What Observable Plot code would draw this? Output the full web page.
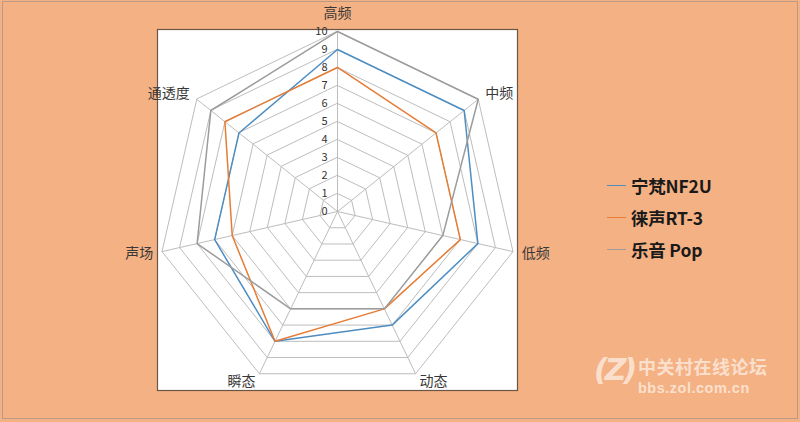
<!DOCTYPE html>
<html>
<head>
<meta charset="utf-8">
<script src="https://cdn.jsdelivr.net/npm/d3@7"></script>
<script src="https://cdn.jsdelivr.net/npm/@observablehq/plot@0.6"></script>
<style>
  html, body { margin: 0; padding: 0; }
  body { width: 800px; height: 422px; overflow: hidden; }
  #wrap { position: relative; width: 800px; height: 422px; background: #F4B183; font-family: "Noto Sans CJK SC", "DejaVu Sans", sans-serif; }
  #outer { position: absolute; left: 2px; top: 1px; width: 794px; height: 416px; border: 1px solid #b89a86; pointer-events: none; }
  #legend { position: absolute; left: 607px; top: 169px; }
  .li { display: flex; align-items: center; height: 32px; }
  .sw { width: 19px; height: 0; border-top: 1.5px solid; margin-right: 5px; }
  .lt { font-size: 17.5px; font-weight: 600; color: #1a1a1a; font-family: "Noto Sans CJK SC", "Liberation Sans", sans-serif; letter-spacing: -0.2px; }
  #wm { position: absolute; left: 594px; top: 352px; color: rgba(255,255,255,0.62); line-height: 1; }
  #wm .z { position: absolute; left: 0; top: 3px; font: italic 900 30px "DejaVu Sans", sans-serif; letter-spacing: -3px; white-space: nowrap; line-height: 1; }
  #wm .cn { position: absolute; left: 44px; top: 5px; font: 700 18px "Noto Sans CJK SC", sans-serif; white-space: nowrap; letter-spacing: 0.5px; line-height: 1; }
  #wm .url { position: absolute; left: 44px; top: 29px; font: 700 14.5px "Liberation Sans", "DejaVu Sans", sans-serif; white-space: nowrap; letter-spacing: 0.5px; line-height: 1; }
</style>
</head>
<body>
<div id="wrap">
  <div id="chart"></div>
  <div id="legend"></div>
  <div id="wm"><span class="z">(Z)</span><span class="cn">中关村在线论坛</span><span class="url">bbs.zol.com.cn</span></div>
  <div id="outer"></div>
</div>
<script>
// ---- data ----
const axes = ["高频", "中频", "低频", "动态", "瞬态", "声场", "通透度"];
const seriesNames = ["宁梵NF2U", "徕声RT-3", "乐音 Pop"];
const nf2u = [9, 9, 8, 7, 8, 7, 7];
const rt3  = [8, 7, 7, 6, 8, 6, 8];
const pop  = [10, 10, 6, 6, 6, 8, 9];
const tickValues = [0, 1, 2, 3, 4, 5, 6, 7, 8, 9, 10];
const seriesColors = ["#4E8DC2", "#E67C35", "#9C9C9C"];

// ---- derived ----
const n = axes.length;
const ang = i => i * 2 * Math.PI / n;
const px = (r, i) => r * Math.sin(ang(i));
const py = (r, i) => r * Math.cos(ang(i));

const rings = [];
for (const lv of tickValues.slice(1)) {
  for (let i = 0; i < n; i++) rings.push({level: lv, x: px(lv, i), y: py(lv, i)});
}
const spokes = axes.map((a, i) => ({axis: a, x2: px(10, i), y2: py(10, i)}));

const allSeries = [nf2u, rt3, pop];
const rows = [];
allSeries.forEach((vals, s) => vals.forEach((v, i) => rows.push({series: seriesNames[s], axis: axes[i], value: v, x: px(v, i), y: py(v, i)})));

const labels = axes.map((a, i) => {
  const r = i === 0 ? 11 : 10.5;
  const s = Math.sin(ang(i));
  return {axis: a, x: px(r, i), y: py(r, i), anchor: s > 0.1 ? "start" : s < -0.1 ? "end" : "middle"};
});

const chart = Plot.plot({
  width: 800,
  height: 422,
  marginLeft: 157,
  marginRight: 283,
  marginTop: 29,
  marginBottom: 32,
  x: {domain: [-10, 10], axis: null},
  y: {domain: [-9.94, 10.11], axis: null},
  color: {domain: seriesNames, range: seriesColors},
  style: {background: "transparent", fontFamily: "'Noto Sans CJK SC', 'DejaVu Sans', sans-serif", overflow: "visible"},
  marks: [
    Plot.frame({fill: "white", stroke: "#6a5546", strokeWidth: 1.2}),
    Plot.line(rings, {x: "x", y: "y", z: "level", curve: "linear-closed", stroke: "#bdbdbd", strokeWidth: 1}),
    Plot.link(spokes, {x1: 0, y1: 0, x2: "x2", y2: "y2", stroke: "#bdbdbd", strokeWidth: 1}),
    Plot.line(rows, {x: "x", y: "y", z: "series", stroke: "series", curve: "linear-closed", strokeWidth: 1.5}),
    Plot.text(tickValues, {x: 0, y: d => d, text: d => String(d), textAnchor: "end", dx: -10, fontSize: 11, fill: "#333"}),
    Plot.text(labels.filter(d => d.anchor === "start"), {x: "x", y: "y", text: "axis", textAnchor: "start", fontSize: 14, fill: "#383838"}),
    Plot.text(labels.filter(d => d.anchor === "end"), {x: "x", y: "y", text: "axis", textAnchor: "end", fontSize: 14, fill: "#383838"}),
    Plot.text(labels.filter(d => d.anchor === "middle"), {x: "x", y: "y", text: "axis", textAnchor: "middle", fontSize: 14, fill: "#383838"})
  ]
});
document.getElementById("chart").appendChild(chart);

const lg = document.getElementById("legend");
seriesNames.forEach((name, i) => {
  const row = document.createElement("div");
  row.className = "li";
  const sw = document.createElement("span");
  sw.className = "sw";
  sw.style.borderColor = seriesColors[i];
  const t = document.createElement("span");
  t.className = "lt";
  t.textContent = name;
  row.appendChild(sw); row.appendChild(t);
  lg.appendChild(row);
});
</script>
</body>
</html>
